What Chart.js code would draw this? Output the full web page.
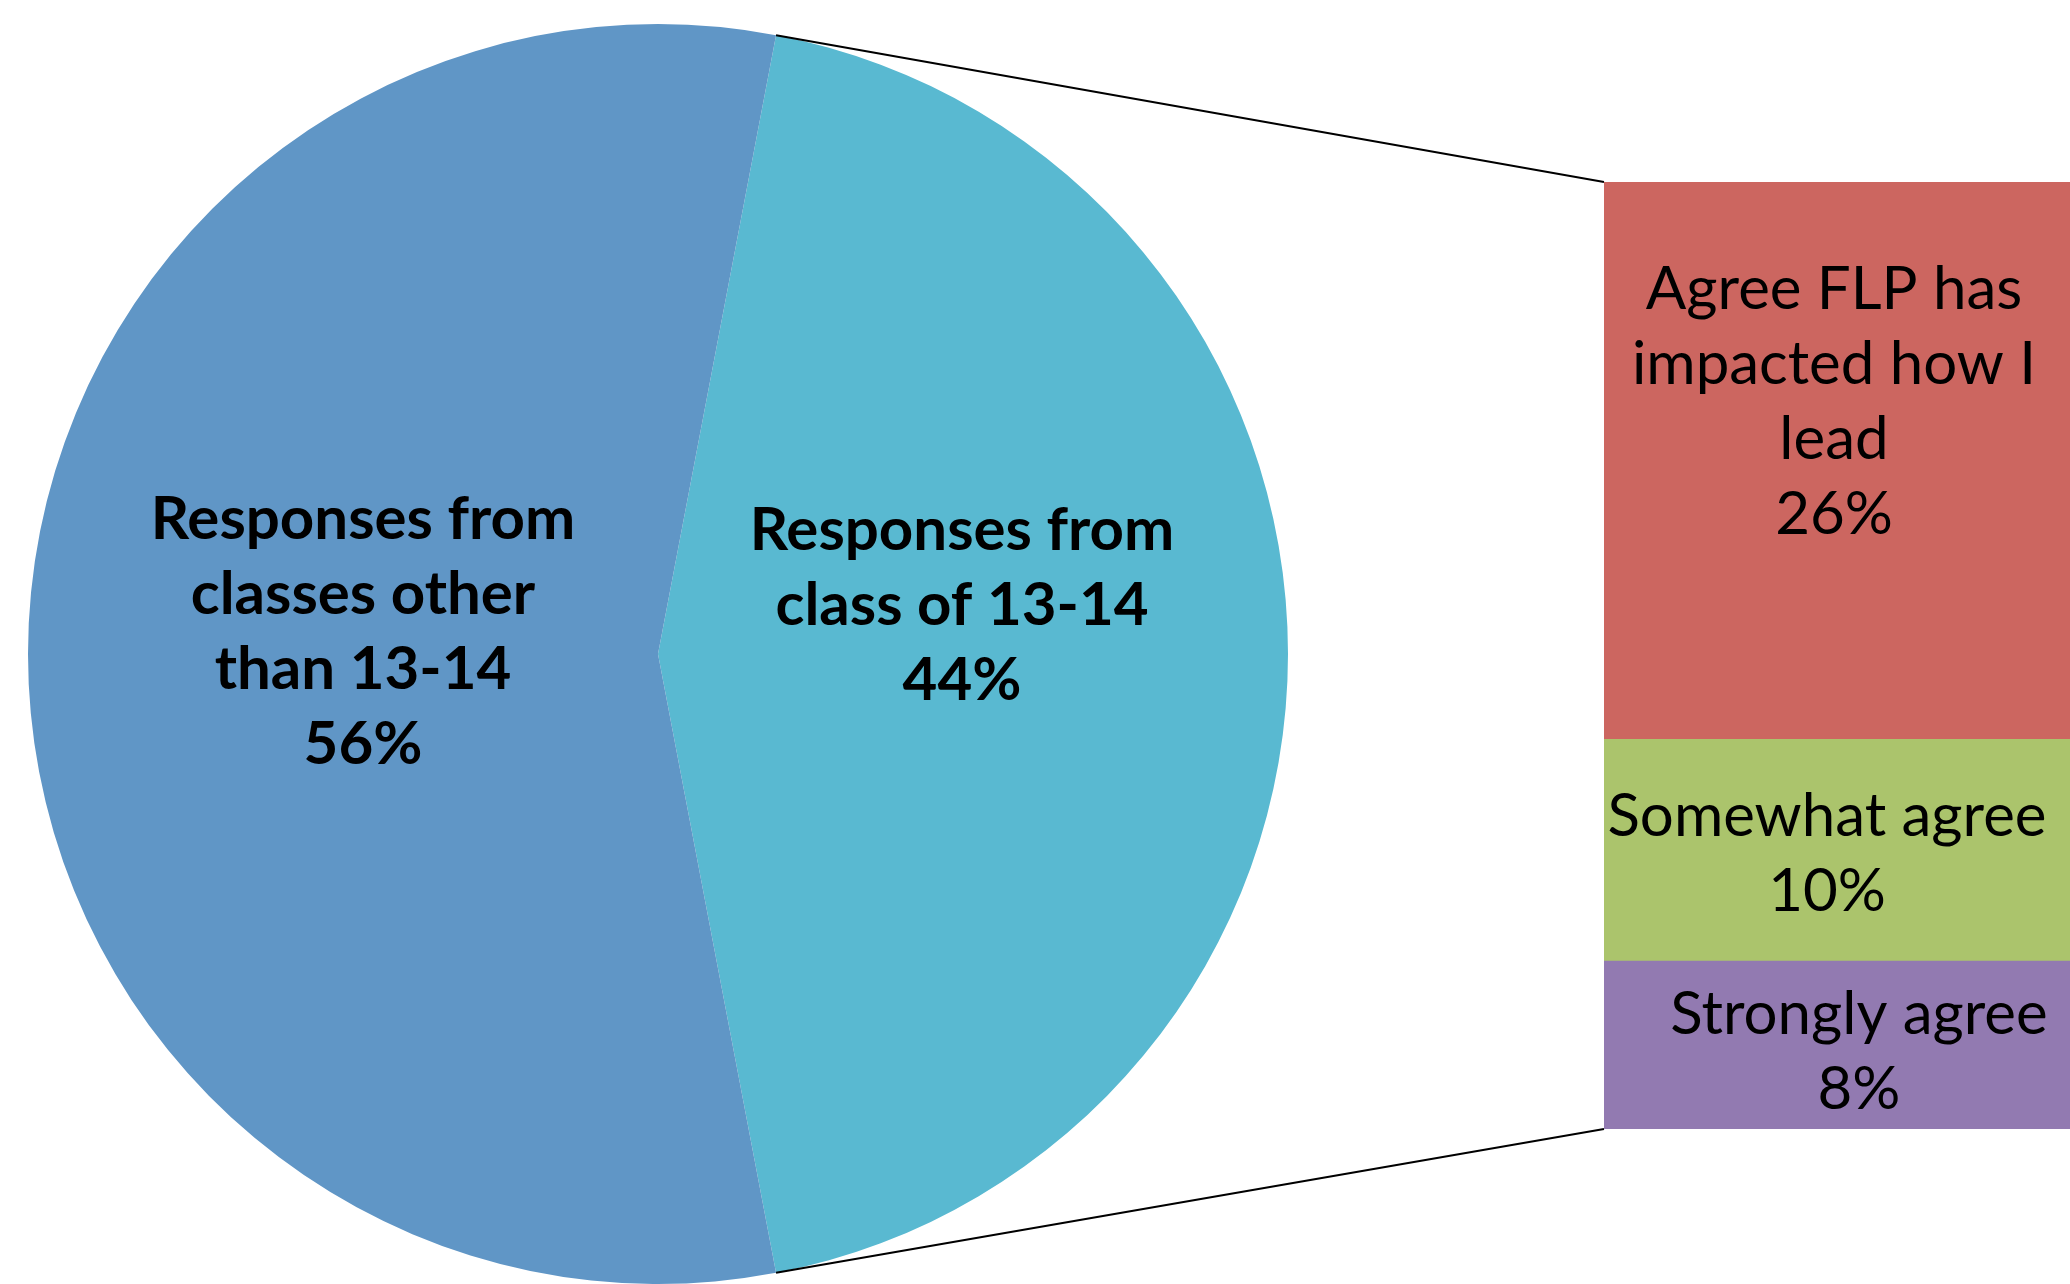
<!DOCTYPE html>
<html><head><meta charset="utf-8">
<script src="https://cdn.jsdelivr.net/npm/chart.js@4"></script>
<style>
html,body{margin:0;padding:0;background:#fff;width:2070px;height:1284px;overflow:hidden}
body{position:relative}
#pieWrap{position:absolute;left:28px;top:24px;width:1260px;height:1260px}
#barWrap{position:absolute;left:1604px;top:182px;width:466px;height:947px}
#overlay{position:absolute;left:0;top:0;width:2070px;height:1284px;pointer-events:none}
</style></head>
<body>
<div id="pieWrap"><canvas id="pie"></canvas></div>
<div id="barWrap"><canvas id="bar"></canvas></div>
<canvas id="overlay" width="2070" height="1284"></canvas>
<script>
// ---- data ----
const pieCategories = ['Responses from class of 13-14', 'Responses from classes other than 13-14'];
const pieValues = [44, 56];
const pieLabelLines = [['Responses from', 'class of 13-14'], ['Responses from', 'classes other', 'than 13-14']];
const pieColors = ['#59B9D1', '#6096C6'];

const barCategories = ['Strongly agree', 'Somewhat agree', 'Agree FLP has impacted how I lead'];
const barValues = [7.8, 10.3, 25.9];
const barLabelLines = [['Strongly agree'], ['Somewhat agree'], ['Agree FLP has', 'impacted how I', 'lead']];
const barColors = ['#927AB1', '#ABC46C', '#CC6660'];

// ---- styling / layout ----
const PIE_FONT = 'bold 60px Lato';
const BAR_FONT = '60px Lato';
const LINE_H = 75;
const pieLabelOffsets = [[-11, -48], [20, -22]];
const barLabelOffsets = [[22, 7], [-10, 4], [-3, -59]];

function pct(v, arr) { return Math.round(v / arr.reduce((a, b) => a + b, 0) * 100) + '%'; }

function drawBlock(ctx, lines, cx, cy, font) {
  ctx.save();
  ctx.font = font;
  ctx.fillStyle = '#000';
  ctx.textAlign = 'center';
  ctx.textBaseline = 'middle';
  const n = lines.length;
  lines.forEach((t, i) => {
    ctx.fillText(t, cx, cy + (i - (n - 1) / 2) * LINE_H);
  });
  ctx.restore();
}

const pieLabelPlugin = {
  id: 'pieLabels',
  afterDatasetsDraw(chart) {
    const ctx = chart.ctx;
    const meta = chart.getDatasetMeta(0);
    meta.data.forEach((el, i) => {
      const p = el.getCenterPoint();
      const lines = pieLabelLines[i].concat([pct(pieValues[i], pieValues)]);
      drawBlock(ctx, lines, p.x + pieLabelOffsets[i][0], p.y + pieLabelOffsets[i][1], PIE_FONT);
    });
  }
};

const barLabelPlugin = {
  id: 'barLabels',
  afterDatasetsDraw(chart) {
    const ctx = chart.ctx;
    chart.data.datasets.forEach((ds, i) => {
      const el = chart.getDatasetMeta(i).data[0];
      const cy = (el.y + el.base) / 2;
      const lines = barLabelLines[i].concat([pct(barValues[i], pieValues)]);
      drawBlock(ctx, lines, el.x + barLabelOffsets[i][0], cy + barLabelOffsets[i][1], BAR_FONT);
    });
  }
};

const pieChart = new Chart(document.getElementById('pie'), {
  type: 'pie',
  data: {
    labels: pieCategories,
    datasets: [{ data: pieValues, backgroundColor: pieColors, borderWidth: 0 }]
  },
  options: {
    responsive: true, maintainAspectRatio: false, animation: false,
    rotation: 90 - pieValues[0] / 100 * 180,
    layout: { padding: 0 },
    plugins: { legend: { display: false }, tooltip: { enabled: false }, title: { display: false } }
  },
  plugins: [pieLabelPlugin]
});

const barTotal = barValues.reduce((a, b) => a + b, 0);
const barChart = new Chart(document.getElementById('bar'), {
  type: 'bar',
  data: {
    labels: ['FLP'],
    datasets: barCategories.map((c, i) => ({
      label: c, data: [barValues[i]], backgroundColor: barColors[i], borderWidth: 0,
      barPercentage: 1, categoryPercentage: 1
    }))
  },
  options: {
    responsive: true, maintainAspectRatio: false, animation: false,
    layout: { padding: 0 },
    scales: {
      x: { stacked: true, display: false },
      y: { stacked: true, display: false, min: 0, max: barTotal }
    },
    plugins: { legend: { display: false }, tooltip: { enabled: false } }
  },
  plugins: [barLabelPlugin]
});

function drawConnectors() {
  const ov = document.getElementById('overlay').getContext('2d');
  ov.clearRect(0, 0, 2070, 1284);
  const pw = document.getElementById('pieWrap');
  const bw = document.getElementById('barWrap');
  const arc = pieChart.getDatasetMeta(0).data[0];
  const px = pw.offsetLeft + arc.x, py = pw.offsetTop + arc.y, r = arc.outerRadius;
  const sx = px + r * Math.cos(arc.startAngle), sy = py + r * Math.sin(arc.startAngle);
  const ex = px + r * Math.cos(arc.endAngle), ey = py + r * Math.sin(arc.endAngle);
  const topEl = barChart.getDatasetMeta(barValues.length - 1).data[0];
  const botEl = barChart.getDatasetMeta(0).data[0];
  const left = bw.offsetLeft + topEl.x - topEl.width / 2;
  const top = bw.offsetTop + topEl.y;
  const bottom = bw.offsetTop + botEl.base;
  ov.strokeStyle = '#000';
  ov.lineWidth = 2;
  ov.beginPath();
  ov.moveTo(sx, sy); ov.lineTo(left, top);
  ov.moveTo(ex, ey); ov.lineTo(left, bottom);
  ov.stroke();
}
drawConnectors();
</script>
</body></html>
